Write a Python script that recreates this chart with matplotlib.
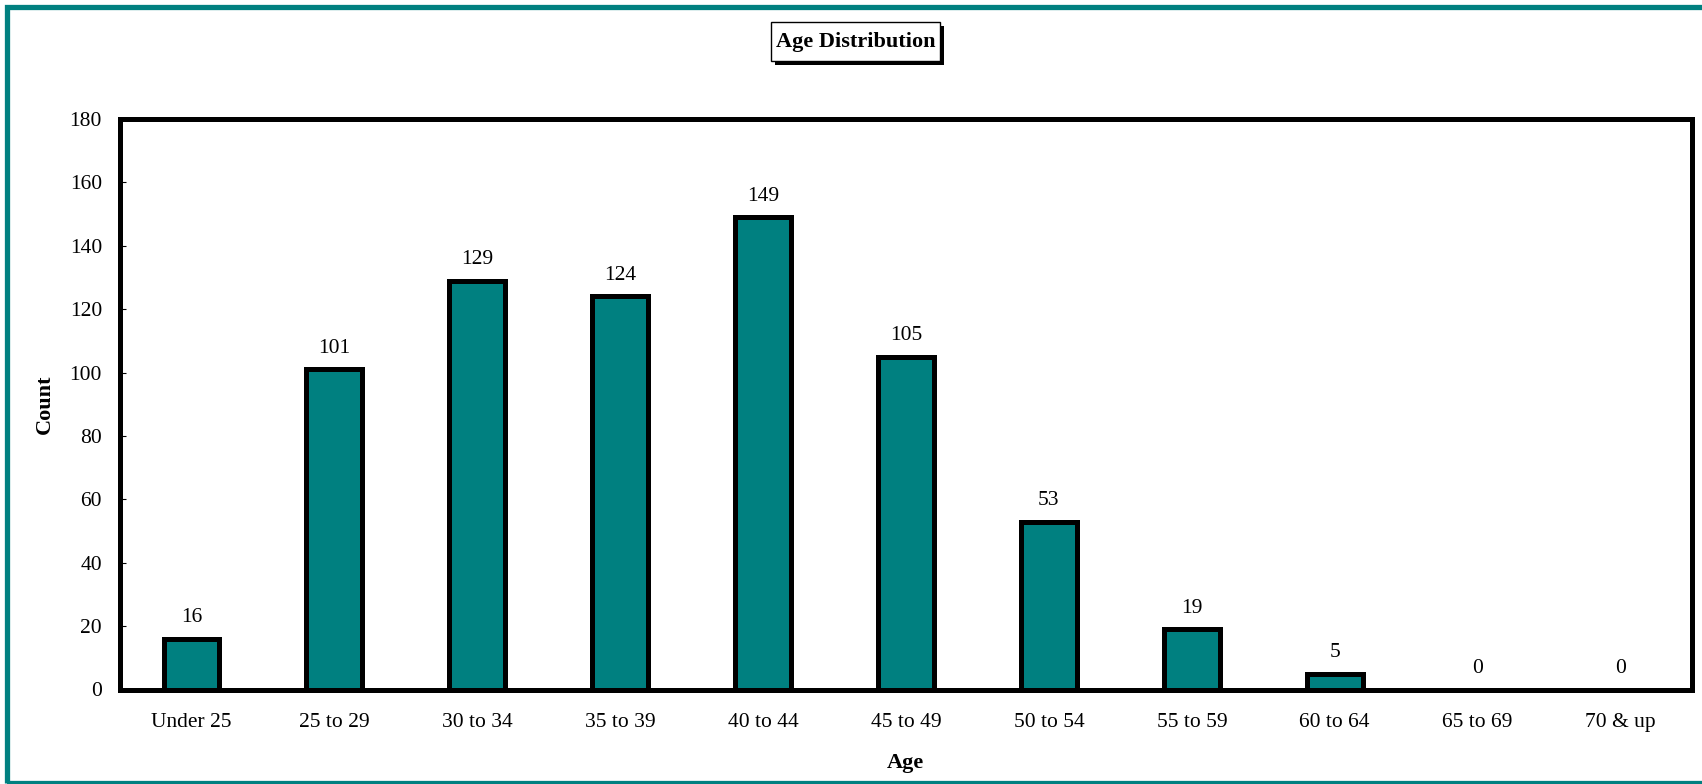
import matplotlib
matplotlib.use("Agg")
import matplotlib.pyplot as plt
from matplotlib.patches import Rectangle
import numpy as np

plt.rcParams['font.family'] = ['Liberation Serif', 'DejaVu Serif']

categories = ["Under 25", "25 to 29", "30 to 34", "35 to 39", "40 to 44", "45 to 49",
              "50 to 54", "55 to 59", "60 to 64", "65 to 69", "70 & up"]
counts = [16, 101, 129, 124, 149, 105, 53, 19, 5, 0, 0]
yticks = [0, 20, 40, 60, 80, 100, 120, 140, 160, 180]

teal = "#008080"
W, H = 1702, 784

fig = plt.figure(figsize=(W / 100, H / 100), dpi=100)
fig.patch.set_facecolor("white")

# teal frame around the whole chart (right side falls off the picture)
fig.add_artist(Rectangle((7 / W, 1.5 / H), 1.2, 775.5 / H, transform=fig.transFigure,
                         fill=False, edgecolor=teal, linewidth=3.8, clip_on=False))

ax = fig.add_axes([120 / W, (H - 689.5) / H, 1572 / W, 570.5 / H])
x = np.arange(len(categories))
ax.bar(x, counts, width=0.39, color=teal, edgecolor="black", linewidth=3.6)

for xi, v in zip(x, counts):
    ax.annotate(str(v), (xi, v), xytext=(0, 12), textcoords="offset points",
                ha="center", va="baseline", fontsize=15.5)

ax.set_xlim(-0.5, len(categories) - 0.5)
ax.set_ylim(0, 180)
ax.set_yticks(yticks)
ax.set_xticks(x)
ax.set_xticklabels(categories)
ax.tick_params(axis="y", direction="in", length=4, width=0.8, labelsize=15.5, pad=13)
ax.tick_params(axis="x", length=0, labelsize=15.5, pad=17)
for s in ax.spines.values():
    s.set_linewidth(3.6)
    s.set_color("black")

fig.text(45 / W, 1 - 404 / H, "Count", rotation=90, ha="center", va="center",
         fontsize=16, fontweight="bold")
fig.text(905 / W, 1 - 763 / H, "Age", ha="center", va="center",
         fontsize=16, fontweight="bold")

# title box with drop shadow
bx0, bx1, by0, by1 = 771, 940, 22, 61
fig.add_artist(Rectangle(((bx0 + 4) / W, 1 - (by1 + 4) / H), (bx1 - bx0) / W, (by1 - by0) / H,
                         transform=fig.transFigure, facecolor="black", edgecolor="black", linewidth=0))
fig.add_artist(Rectangle((bx0 / W, 1 - by1 / H), (bx1 - bx0) / W, (by1 - by0) / H,
                         transform=fig.transFigure, facecolor="white", edgecolor="black", linewidth=1))
fig.text((bx0 + bx1) / 2 / W, 1 - 42 / H, "Age Distribution", ha="center", va="center",
         fontsize=16, fontweight="bold")

fig.savefig("out.png", dpi=100)
